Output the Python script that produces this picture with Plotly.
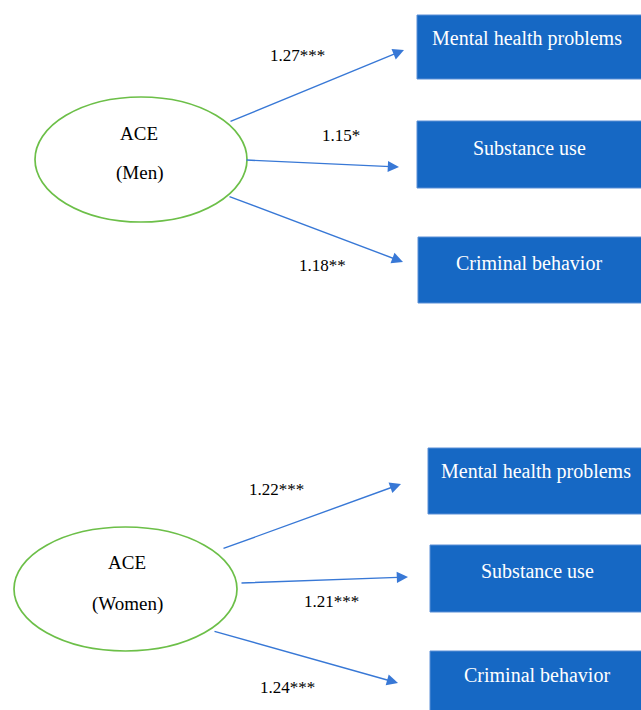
import plotly.graph_objects as go

# ---- data ----
groups = ["Men", "Women"]
outcomes = ["Mental health problems", "Substance use", "Criminal behavior"]
coef_men = [1.27, 1.15, 1.18]
sig_men = ["***", "*", "**"]
coef_women = [1.22, 1.21, 1.24]
sig_women = ["***", "***", "***"]

# ---- layout geometry (pixel space of the 641x710 canvas) ----
panels = [
    dict(
        ell=(35, 97, 247, 222), ace_y=133, grp_y=173, txt_x=139,
        boxes=[(417, 15, 645, 79), (417, 121, 645, 188), (418, 237, 645, 303)],
        box_text_y=[38, 148, 263], box_text_x=[527, 529, 529],
        arrows=[((229, 122), (404, 50)), ((245, 160), (399, 167)), ((228, 196), (403, 262))],
        labels=[(297, 55), (341, 135), (322, 265)],
    ),
    dict(
        ell=(14, 527, 237, 651), ace_y=562, grp_y=604, txt_x=127,
        boxes=[(428, 448, 645, 514), (430, 545, 645, 612), (430, 651, 645, 720)],
        box_text_y=[471, 571, 675], box_text_x=[536, 537, 537],
        arrows=[((222, 549), (401, 484)), ((240, 583), (408, 577)), ((213, 631), (398, 683))],
        labels=[(276, 489), (331, 601), (287, 687)],
    ),
]
coefs = [coef_men, coef_women]
sigs = [sig_men, sig_women]

BOX_FILL = "#1668C4"
BOX_LINE = "#5A8FD6"
ARROW = "#3878D6"
GREEN = "#6CBF48"
FONT = "Liberation Serif"

fig = go.Figure()
shapes = []
annotations = []

for p, grp, cf, sg in zip(panels, groups, coefs, sigs):
    x0, y0, x1, y1 = p["ell"]
    shapes.append(dict(type="circle", xref="x", yref="y", x0=x0, y0=y0, x1=x1, y1=y1,
                       line=dict(color=GREEN, width=1.7), fillcolor="white", layer="above"))
    annotations.append(dict(x=p["txt_x"], y=p["ace_y"], text="ACE", showarrow=False,
                            font=dict(family=FONT, size=19, color="black"), xref="x", yref="y"))
    annotations.append(dict(x=p["txt_x"], y=p["grp_y"], text=f"({grp})", showarrow=False,
                            font=dict(family=FONT, size=19, color="black"), xref="x", yref="y"))
    for i, name in enumerate(outcomes):
        bx0, by0, bx1, by1 = p["boxes"][i]
        shapes.append(dict(type="rect", xref="x", yref="y", x0=bx0, y0=by0, x1=bx1, y1=by1,
                           line=dict(color=BOX_LINE, width=1), fillcolor=BOX_FILL, layer="above"))
        annotations.append(dict(x=p["box_text_x"][i], y=p["box_text_y"][i], text=name,
                                showarrow=False, xref="x", yref="y",
                                font=dict(family=FONT, size=20, color="white")))
        (tx, ty), (hx, hy) = p["arrows"][i]
        annotations.append(dict(x=hx, y=hy, ax=tx, ay=ty, xref="x", yref="y",
                                axref="x", ayref="y", text="", showarrow=True,
                                arrowhead=2, arrowsize=1.6, arrowwidth=1.4,
                                arrowcolor=ARROW, standoff=0))
        lx, ly = p["labels"][i]
        annotations.append(dict(x=lx, y=ly, text=f"{cf[i]:.2f}{sg[i]}", showarrow=False,
                                xref="x", yref="y",
                                font=dict(family=FONT, size=17, color="black")))

fig.update_layout(
    width=641, height=710,
    margin=dict(l=0, r=0, t=0, b=0),
    paper_bgcolor="white", plot_bgcolor="white",
    shapes=shapes, annotations=annotations,
    showlegend=False,
)
fig.update_xaxes(range=[0, 641], visible=False, fixedrange=True)
fig.update_yaxes(range=[710, 0], visible=False, fixedrange=True)

fig.write_html(
    "out.html",
    config={"displayModeBar": False},
    post_script="document.body.style.margin='0';document.body.style.overflow='hidden';",
)
